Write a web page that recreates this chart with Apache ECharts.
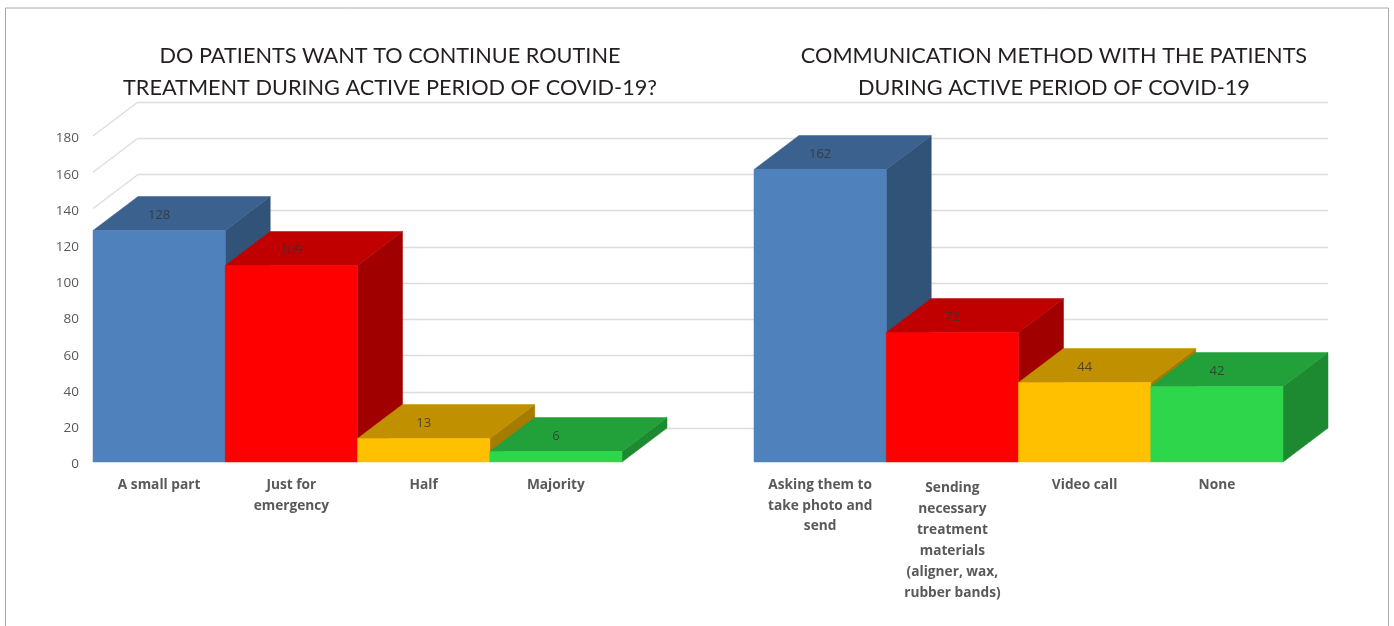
<!DOCTYPE html>
<html>
<head>
<meta charset="utf-8">
<style>html,body{margin:0;padding:0;background:#fff}#c{width:1394px;height:626px}</style>
<script src="https://cdn.jsdelivr.net/npm/echarts@6/dist/echarts.min.js"></script>
</head>
<body>
<div id="c"></div>
<script>
var leftCategories = ['A small part', 'Just for\nemergency', 'Half', 'Majority'];
var leftValues = [128, 109, 13, 6];
var rightCategories = ['Asking them to\ntake photo and\nsend', 'Sending\nnecessary\ntreatment\nmaterials\n(aligner, wax,\nrubber bands)', 'Video call', 'None'];
var rightValues = [162, 72, 44, 42];
var gridTicks = [0, 20, 40, 60, 80, 100, 120, 140, 160, 180];
var leftTitle = 'DO PATIENTS WANT TO CONTINUE ROUTINE\nTREATMENT DURING ACTIVE PERIOD OF COVID-19?';
var rightTitle = 'COMMUNICATION METHOD WITH THE PATIENTS\nDURING ACTIVE PERIOD OF COVID-19';

var frontColors = ['#4f81bd', '#ff0000', '#ffc000', '#2ed64c'];
var topColors = ['#3b618f', '#c00000', '#c09000', '#22a03a'];
var sideColors = ['#325378', '#a00000', '#a67c00', '#1d8a31'];
var DX = 45, DY = -34;
var FONT = '"Open Sans"';

function bar3d(params, api) {
  var i = params.dataIndex;
  var v = api.value(1);
  var top = api.coord([i, v]);
  var base = api.coord([i, 0]);
  var w = api.size([1, 0])[0];
  var x0 = top[0] - w / 2, x1 = top[0] + w / 2, y0 = Math.round(top[1]) + 0.5, y1 = base[1];
  return {
    type: 'group',
    children: [
      {type: 'polygon', shape: {points: [[x1, y0], [x1 + DX, y0 + DY], [x1 + DX, y1 + DY], [x1, y1]]}, style: {fill: sideColors[i], stroke: sideColors[i], lineWidth: 0.5}},
      {type: 'polygon', shape: {points: [[x0, y0], [x0 + DX, y0 + DY], [x1 + DX, y0 + DY], [x1, y0]]}, style: {fill: topColors[i], stroke: topColors[i], lineWidth: 0.5}},
      {type: 'rect', shape: {x: x0, y: y0, width: w, height: y1 - y0}, style: {fill: frontColors[i], stroke: frontColors[i], lineWidth: 0.5}},
      {type: 'text', x: top[0], y: y0 - 15, style: {text: String(v), fill: 'rgba(50,50,50,0.8)', font: '13px ' + FONT, align: 'center', verticalAlign: 'middle'}}
    ]
  };
}
function sideWall(params, api) {
  var p = api.coord([0, api.value(0)]);
  var w = api.size([1, 0])[0];
  var x = p[0] - w / 2;
  return {type: 'line', shape: {x1: x, y1: p[1], x2: x + DX, y2: p[1] + DY}, style: {stroke: '#dcdcdc', lineWidth: 1.3}};
}
function catAxis(idx, cats) {
  return {
    type: 'category', gridIndex: idx,
    data: cats.map(function (c) {
      return c.split('\n').length > 4 ? {value: c, textStyle: {padding: [3, 0, 0, 0], lineHeight: 21}} : c;
    }),
    axisLine: {show: false}, axisTick: {show: false}, splitLine: {show: false},
    axisLabel: {interval: 0, margin: 13, color: '#595959', fontFamily: FONT, fontWeight: 'bold', fontSize: 13.7, lineHeight: 20.5}
  };
}
function toPairs(vals) { return vals.map(function (v, i) { return [i, v]; }); }

var chart = echarts.init(document.getElementById('c'), null, {renderer: 'canvas'});
chart.setOption({
  animation: false,
  backgroundColor: '#fff',
  title: [
    {text: leftTitle, left: 385, top: 35, textAlign: 'center', textStyle: {fontFamily: 'Lato', fontWeight: 'normal', fontSize: 21.7, lineHeight: 32, color: '#231f20'}},
    {text: rightTitle, left: 1049, top: 35, textAlign: 'center', textStyle: {fontFamily: 'Lato', fontWeight: 'normal', fontSize: 21.7, lineHeight: 32, color: '#231f20'}}
  ],
  graphic: [{type: 'polyline', silent: true, shape: {points: [[5.5, 626], [5.5, 8], [1388.5, 8], [1388.5, 626]]}, style: {stroke: '#a8a8a8', lineWidth: 1, fill: null}}],
  grid: [
    {left: 93, top: 136, width: 529, height: 326},
    {left: 754, top: 136, width: 529, height: 326},
    {left: 93 + DX, top: 136 + DY, width: 1190, height: 326}
  ],
  xAxis: [
    catAxis(0, leftCategories),
    catAxis(1, rightCategories),
    {type: 'value', gridIndex: 2, min: 0, max: 1, axisLine: {show: false}, axisTick: {show: false}, axisLabel: {show: false}, splitLine: {show: false}}
  ],
  yAxis: [
    {type: 'value', gridIndex: 0, min: 0, max: 180, interval: 20, axisLine: {show: false}, axisTick: {show: false}, splitLine: {show: false},
      axisLabel: {margin: 14, formatter: function (v) { return '{a|' + v + '}'; },
        rich: {a: {color: '#595959', fontFamily: FONT, fontSize: 13.5, padding: [5, 0, 0, 0]}}}},
    {type: 'value', gridIndex: 1, min: 0, max: 180, interval: 20, axisLine: {show: false}, axisTick: {show: false}, axisLabel: {show: false}, splitLine: {show: false}},
    {type: 'value', gridIndex: 2, min: 0, max: 180, interval: 20, axisLine: {show: false}, axisTick: {show: false}, axisLabel: {show: false},
      splitLine: {show: true, lineStyle: {color: '#dcdcdc', width: 1.3}}}
  ],
  series: [
    {type: 'custom', xAxisIndex: 0, yAxisIndex: 0, z: 1, clip: false, silent: true, renderItem: sideWall,
      data: gridTicks.filter(function (t) { return t > 0; }).map(function (t) { return [t]; }), encode: {y: 0}},
    {type: 'custom', xAxisIndex: 0, yAxisIndex: 0, z: 3, clip: false, renderItem: bar3d, data: toPairs(leftValues), encode: {x: 0, y: 1}},
    {type: 'custom', xAxisIndex: 1, yAxisIndex: 1, z: 3, clip: false, renderItem: bar3d, data: toPairs(rightValues), encode: {x: 0, y: 1}}
  ]
});
</script>
</body>
</html>
